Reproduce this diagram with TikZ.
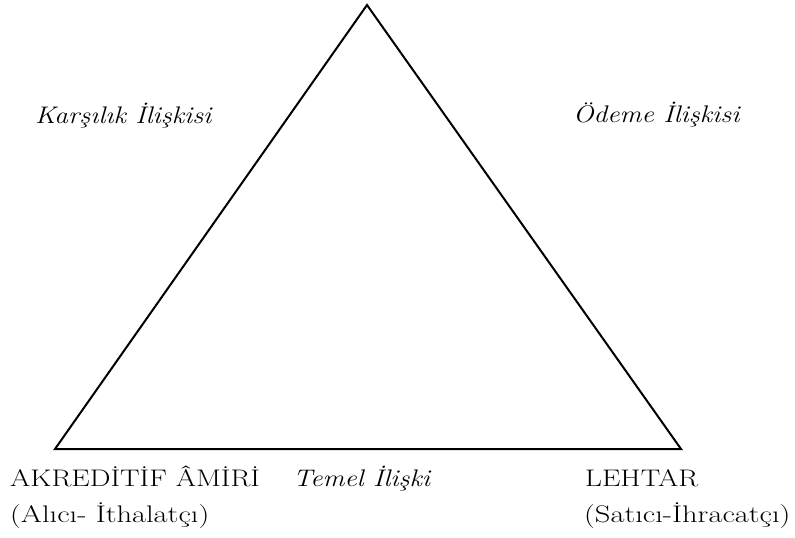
\documentclass[tikz,border=0pt]{standalone}
\usepackage{graphicx}
\newcommand{\widetext}[1]{\scalebox{1.22}[1]{#1}}
\newcommand{\widelower}[1]{\scalebox{1.27}[1]{#1}}
\newcommand{\wideital}[1]{\scalebox{1.14}[1]{\itshape #1}}
\begin{document}
\begin{tikzpicture}[x=1pt,y=-1pt,
  lbl/.style={anchor=base west,inner sep=0pt,font=\fontsize{24}{29}\selectfont},
  edge/.style={line width=2pt,line join=miter}]
\useasboundingbox (0,0) rectangle (795,538);
\coordinate (top) at (367,5);
\coordinate (left) at (55,449);
\coordinate (right) at (681,449);
\draw[edge] (top) -- (left) -- (right) -- cycle;
\node[lbl] (karsilik) at (35,123) {\wideital{Karşılık İlişkisi}};
\node[lbl] (odeme) at (573,122) {\wideital{Ödeme İlişkisi}};
\node[lbl] (amir) at (10,486) {\widetext{AKREDİTİF ÂMİRİ}};
\node[lbl] (alici) at (10,522) {\widelower{(Alıcı- İthalatçı)}};
\node[lbl] (temel) at (293,486) {\wideital{Temel İlişki}};
\node[lbl] (lehtar) at (585,486) {\widetext{LEHTAR}};
\node[lbl] (satici) at (584,522) {\widelower{(Satıcı-İhracatçı)}};
\end{tikzpicture}
\end{document}
